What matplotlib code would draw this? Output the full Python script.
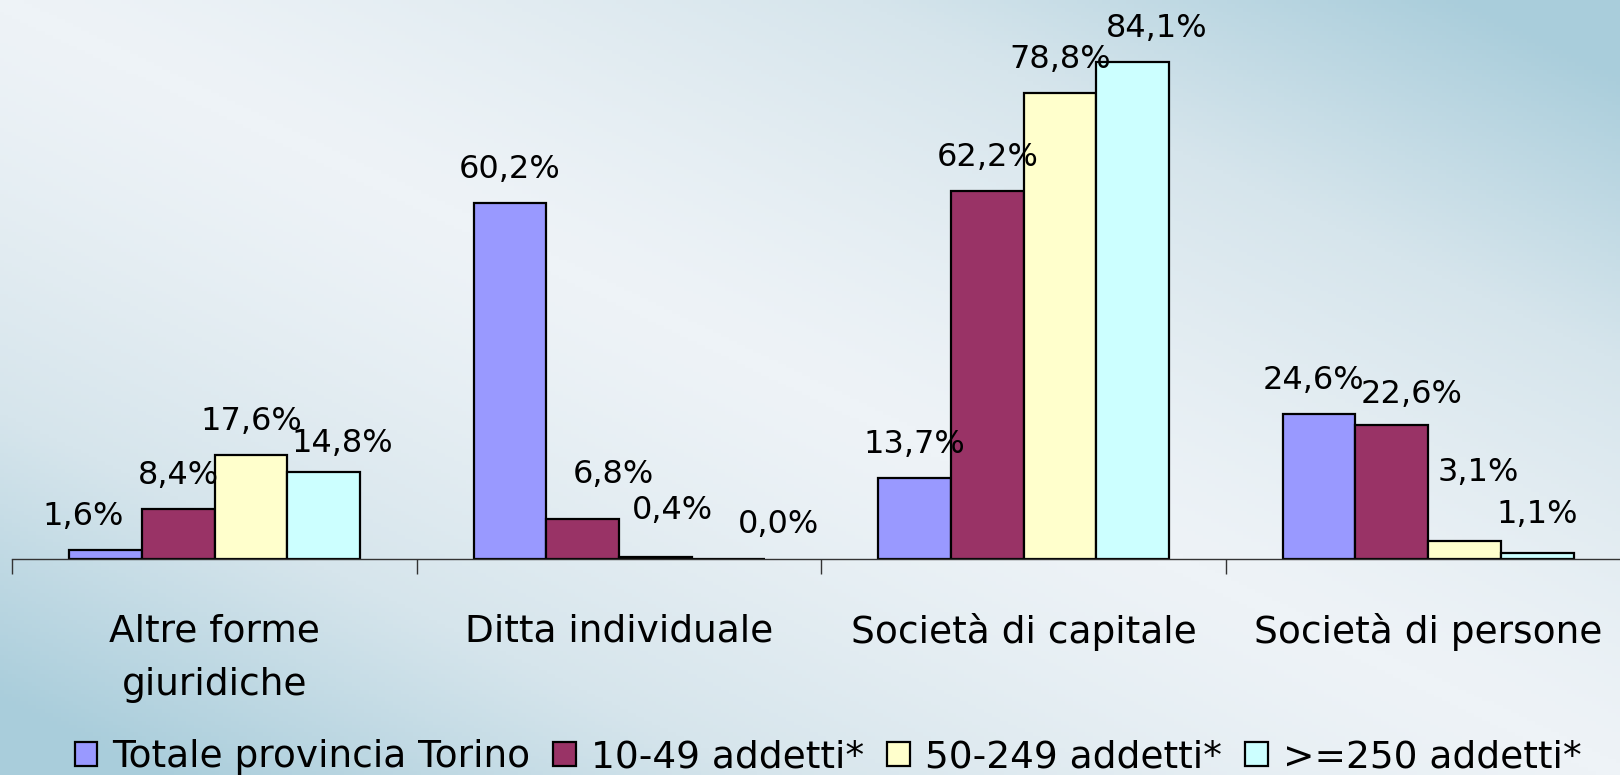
import numpy as np
import matplotlib
matplotlib.use("Agg")
import matplotlib.pyplot as plt
from matplotlib.colors import LinearSegmentedColormap

# === Data ===
categories = ["Altre forme\ngiuridiche", "Ditta individuale", "Società di capitale", "Società di persone"]
series_names = ["Totale provincia Torino", "10-49 addetti*", "50-249 addetti*", ">=250 addetti*"]
totale = [1.6, 60.2, 13.7, 24.6]
add_10_49 = [8.4, 6.8, 62.2, 22.6]
add_50_249 = [17.6, 0.4, 78.8, 3.1]
add_250 = [14.8, 0.0, 84.1, 1.1]
colors = ["#9999FF", "#993366", "#FFFFCC", "#CCFFFF"]

series = [totale, add_10_49, add_50_249, add_250]

# label nudges (points) so the value labels sit like in the original slide
nudges = [
    [(-16, 0), (0, 0), (0, 0), (-4, 0)],
    [(0, 0), (22, 8), (0, 0), (14, -2)],
    [(0, 0), (12, 9), (0, 0), (10, 25)],
    [(13, -4), (36, 1), (17, 0), (0, 3)],
]

# === Figure + gradient background ===
W, H, DPI = 1620, 775, 100
fig = plt.figure(figsize=(W / DPI, H / DPI), dpi=DPI)

bg = fig.add_axes([0, 0, 1, 1], zorder=-10)
u = np.linspace(0, 1, 400)[None, :]
v = np.linspace(0, 1, 200)[:, None]
t = np.clip(np.abs(u - v) * 1.1, 0, 1) ** 1.3
cmap = LinearSegmentedColormap.from_list("bg", ["#eef3f7", "#d6e5ec", "#a9cddb"])
bg.imshow(t, cmap=cmap, aspect="auto", extent=[0, 1, 0, 1], vmin=0, vmax=1)
bg.axis("off")

# === Bars ===
ax = fig.add_axes([12.4 / W, 1 - 559 / H, 4 * 404.5 / W, 559 / H])
ax.patch.set_alpha(0)
x = np.arange(len(categories))
width = 0.18
offsets = [-1.5 * width, -0.5 * width, 0.5 * width, 1.5 * width]

for vals, off, col, nud in zip(series, offsets, colors, nudges):
    bars = ax.bar(x + off, vals, width, color=col, edgecolor="black", linewidth=1.6)
    for b, val, (dx, dy) in zip(bars, vals, nud):
        ax.annotate(f"{val:.1f}%".replace(".", ","),
                    (b.get_x() + b.get_width() / 2, b.get_height()),
                    xytext=(dx, 18 + dy), textcoords="offset points",
                    ha="center", va="baseline", fontsize=23, color="black")

ax.set_xlim(-0.5, len(categories) - 0.5)
ax.set_ylim(0, 94.6)
for s in ["left", "right", "top"]:
    ax.spines[s].set_visible(False)
ax.spines["bottom"].set_color("#333333")
ax.spines["bottom"].set_linewidth(1.0)
ax.set_yticks([])

ax.set_xticks(x)
ax.set_xticklabels(categories, fontsize=27, linespacing=1.62)
ax.tick_params(axis="x", which="major", length=0, pad=39)
ax.set_xticks(np.arange(-0.5, len(categories)), minor=True)
ax.tick_params(axis="x", which="minor", length=11, width=1.0, color="#333333")

# === Legend ===
handles = [plt.Rectangle((0, 0), 1, 1, facecolor=c, edgecolor="black", linewidth=1.6) for c in colors]
fig.legend(handles, series_names, loc="center", bbox_to_anchor=(828 / W, 1 - 757 / H),
           ncol=4, frameon=False, fontsize=27, handlelength=0.6, handleheight=0.6,
           handletextpad=0.4, columnspacing=0.62, borderpad=0)

fig.savefig("out.png", dpi=DPI)
